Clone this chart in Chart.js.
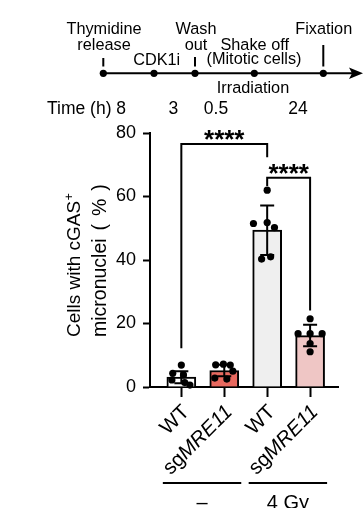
<!DOCTYPE html>
<html><head><meta charset="utf-8">
<script src="https://cdn.jsdelivr.net/npm/chart.js@4.4.1/dist/chart.umd.min.js"></script>
<style>html,body{margin:0;padding:0;background:#fff;}#wrap{width:363px;height:508px;position:relative;}</style>
</head><body><div id="wrap"><canvas id="c" width="363" height="508"></canvas></div>
<script>
// ---- data ----
const categories = ['WT', 'sgMRE11', 'WT', 'sgMRE11'];
const italicPart = ['', 'MRE11', '', 'MRE11'];
const groupLabels = ['–', '4 Gy'];
const groupMembers = [[0, 1], [2, 3]];
const meanValues = [3.1, 5.2, 49.4, 16.2];
const sdValues = [1.9, 1.8, 7.8, 3.4];
const wtControl = [6.9, 4.3, 3.8, 2.2, 1.4, 0.6];
const sgControl = [7.0, 7.2, 6.9, 5.0, 2.8, 2.5];
const wtIrradiated = [62.0, 51.5, 51.8, 50.2, 40.3, 41.0];
const sgIrradiated = [21.5, 16.8, 16.8, 16.8, 13.7, 11.1];
const yTickValues = [0, 20, 40, 60, 80];
const sigLabels = ['****', '****'];
const sigPairs = [[0, 2], [2, 3]];
const sigHeights = [76.5, 65.9];
const sigLegEnds = [[12.2, 72.4], [63.3, 24.1]];
const timeLabels = ['8', '3', '0.5', '24'];
const yTitle = ['Cells with cGAS', 'micronuclei ( % )'];

// ---- styling (not data) ----
const barColors = ['#ffffff', '#e8695f', '#efefef', '#efc6c5'];
const jitter = [
  [0, -0.2, 0.05, -0.22, 0.08, 0.2],
  [-0.2, -0.02, 0.14, 0.2, -0.22, 0.06],
  [0, -0.32, 0, 0.17, -0.13, 0.08],
  [0, -0.28, 0, 0.28, 0, 0]
];
const FONT = '"Liberation Sans", Arial, Helvetica, sans-serif';

const pointSets = [wtControl, sgControl, wtIrradiated, sgIrradiated];
const pointData = [];
pointSets.forEach((vals, i) => vals.forEach((v, j) => pointData.push({x: i + 1 + jitter[i][j], y: v})));

const overlay = {
  id: 'overlay',
  afterDatasetDraw(chart, args) {
    if (args.index !== 0) return;
    const ctx = chart.ctx, xs = chart.scales.x, ys = chart.scales.y;
    ctx.save();
    ctx.strokeStyle = '#000'; ctx.lineWidth = 2;
    meanValues.forEach((m, i) => {
      const x = xs.getPixelForValue(i + 1);
      const t = ys.getPixelForValue(m + sdValues[i]);
      const b = ys.getPixelForValue(Math.max(0, m - sdValues[i]));
      ctx.beginPath();
      ctx.moveTo(x, t); ctx.lineTo(x, b);
      ctx.moveTo(x - 7, t); ctx.lineTo(x + 7, t);
      ctx.moveTo(x - 7, b); ctx.lineTo(x + 7, b);
      ctx.stroke();
    });
    ctx.restore();
  },
  afterDraw(chart) {
    const ctx = chart.ctx, xs = chart.scales.x, ys = chart.scales.y;
    ctx.save();
    ctx.fillStyle = '#000'; ctx.strokeStyle = '#000'; ctx.lineWidth = 2;
    // significance brackets
    sigPairs.forEach((p, k) => {
      const x1 = xs.getPixelForValue(p[0] + 1), x2 = xs.getPixelForValue(p[1] + 1);
      const yt = ys.getPixelForValue(sigHeights[k]);
      ctx.beginPath();
      ctx.moveTo(x1, ys.getPixelForValue(sigLegEnds[k][0]));
      ctx.lineTo(x1, yt); ctx.lineTo(x2, yt);
      ctx.lineTo(x2, ys.getPixelForValue(sigLegEnds[k][1]));
      ctx.stroke();
      ctx.font = 'bold 26px ' + FONT;
      ctx.textAlign = 'center'; ctx.textBaseline = 'alphabetic';
      ctx.fillText(sigLabels[k], (x1 + x2) / 2, yt - 10.7 + 15);
    });
    // x category labels
    ctx.textBaseline = 'middle'; ctx.textAlign = 'right';
    categories.forEach((c, i) => {
      const px = xs.getPixelForValue(i + 1);
      ctx.save();
      ctx.translate(px + 5, 409);
      ctx.rotate(-Math.PI / 4);
      const it = italicPart[i];
      const plain = it ? c.slice(0, c.length - it.length) : c;
      let off = 0;
      if (it) {
        ctx.font = 'italic 20.5px ' + FONT;
        ctx.fillText(it, 0, 0);
        off = ctx.measureText(it).width;
      }
      ctx.font = '20.5px ' + FONT;
      ctx.fillText(plain, -off, 0);
      ctx.restore();
    });
    // group lines
    ctx.textAlign = 'center'; ctx.textBaseline = 'alphabetic';
    ctx.font = '20px ' + FONT;
    groupMembers.forEach((g, k) => {
      const a = xs.getPixelForValue(g[0] + 1) - 18.5;
      const b = xs.getPixelForValue(g[g.length - 1] + 1) + 17;
      ctx.beginPath(); ctx.moveTo(a, 483); ctx.lineTo(b, 483); ctx.stroke();
      ctx.fillText(groupLabels[k], (a + b) / 2, 509);
    });
    // y title
    ctx.save();
    ctx.textAlign = 'left';
    ctx.translate(80, 337); ctx.rotate(-Math.PI / 2);
    ctx.font = '19px ' + FONT;
    ctx.fillText(yTitle[0], 0, 0);
    const w0 = ctx.measureText(yTitle[0]).width;
    ctx.font = '12px ' + FONT;
    ctx.fillText('+', w0 + 0.5, -7);
    ctx.restore();
    ctx.save();
    ctx.textAlign = 'left';
    ctx.translate(106, 337); ctx.rotate(-Math.PI / 2);
    ctx.font = '19.5px ' + FONT;
    try { ctx.wordSpacing = '2.5px'; } catch (e) {}
    ctx.fillText(yTitle[1], 0, 0);
    ctx.restore();
    // timeline schematic
    ctx.font = '16.3px ' + FONT;
    ctx.textAlign = 'center';
    const tl = [
      ['Thymidine', 104, 34], ['release', 104, 49.5], ['CDK1i', 156.7, 65],
      ['Wash', 196, 33.5], ['out', 196, 49.5], ['Shake off', 254.7, 49.5],
      ['(Mitotic cells)', 254, 64], ['Fixation', 323.7, 33.5], ['Irradiation', 253, 92.5]
    ];
    tl.forEach(t => ctx.fillText(t[0], t[1], t[2]));
    ctx.lineWidth = 2;
    ctx.beginPath();
    ctx.moveTo(103, 73.3); ctx.lineTo(354, 73.3);
    ctx.moveTo(103.3, 58); ctx.lineTo(103.3, 66.5);
    ctx.moveTo(195, 57); ctx.lineTo(195, 66.5);
    ctx.moveTo(323.3, 45); ctx.lineTo(323.3, 66.5);
    ctx.stroke();
    ctx.beginPath();
    ctx.moveTo(363, 73.3); ctx.lineTo(349, 67.5); ctx.lineTo(352, 73.3); ctx.lineTo(349, 79.1); ctx.closePath();
    ctx.fill();
    [103.3, 154, 195, 254.3, 323.3].forEach(x => {
      ctx.beginPath(); ctx.arc(x, 73.3, 3.6, 0, Math.PI * 2); ctx.fill();
    });
    ctx.font = '17.5px ' + FONT;
    ctx.textAlign = 'left';
    ctx.fillText('Time (h) ' + timeLabels[0], 47, 113.7);
    ctx.textAlign = 'center';
    ctx.fillText(timeLabels[1], 173.3, 113.7);
    ctx.fillText(timeLabels[2], 216, 113.7);
    ctx.fillText(timeLabels[3], 298, 113.7);
    ctx.restore();
  }
};

new Chart(document.getElementById('c'), {
  type: 'bar',
  data: {
    datasets: [
      {
        type: 'bar', order: 2,
        data: meanValues.map((v, i) => ({x: i + 1, y: v})),
        backgroundColor: barColors, borderColor: '#000', borderWidth: 2,
        borderSkipped: 'start', barThickness: 29
      },
      {
        type: 'scatter', order: 1, clip: false,
        data: pointData,
        backgroundColor: '#000', borderWidth: 0, pointRadius: 3.6
      }
    ]
  },
  options: {
    responsive: false, animation: false, events: [],
    layout: {padding: {left: 100, top: 133, right: 25, bottom: 100}},
    plugins: {legend: {display: false}, tooltip: {enabled: false}},
    scales: {
      x: {
        type: 'linear', min: 0.27, max: 4.65, z: 1, offset: false,
        afterBuildTicks: s => { s.ticks = categories.map((c, i) => ({value: i + 1})); },
        afterFit: s => { s.height = 21; },
        ticks: {display: false},
        grid: {drawOnChartArea: false, drawTicks: true, tickLength: 10, tickColor: '#000', tickWidth: 2, offset: false},
        border: {color: '#000', width: 2}
      },
      y: {
        min: 0, max: 80, z: 1,
        afterBuildTicks: s => { s.ticks = yTickValues.map(v => ({value: v})); },
        afterFit: s => { s.width = 50; },
        ticks: {color: '#000', font: {family: FONT, size: 18}, padding: 7},
        grid: {drawOnChartArea: false, drawTicks: true, tickLength: 7, tickColor: '#000', tickWidth: 2},
        border: {color: '#000', width: 2}
      }
    }
  },
  plugins: [overlay]
});
</script></body></html>
